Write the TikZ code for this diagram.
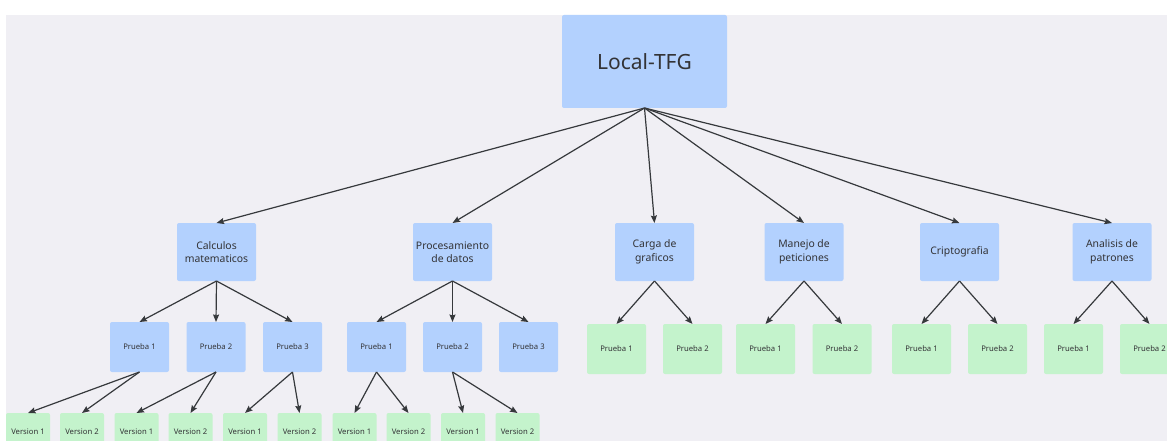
\documentclass[tikz,border=0pt]{standalone}
\usepackage{fontspec}
\setmainfont{Noto Sans}
\usetikzlibrary{arrows.meta}
\definecolor{bgc}{HTML}{F0EFF4}
\definecolor{bluef}{HTML}{B3D1FE}
\definecolor{greenf}{HTML}{C4F3CC}
\definecolor{txt}{HTML}{333336}
\definecolor{lnc}{HTML}{36393C}
\tikzset{
  box/.style={rounded corners=2pt, inner sep=0pt, outer sep=0pt, text=txt, align=center},
  rootbox/.style={box, fill=bluef, minimum width=165pt, minimum height=93pt, font=\fontsize{21}{25}\selectfont},
  catbox/.style={box, fill=bluef, minimum width=79pt, minimum height=58pt, font=\fontsize{10.4}{13.5}\selectfont},
  bprueba/.style={box, fill=bluef, minimum width=59pt, minimum height=50pt, font=\fontsize{7.7}{9}\selectfont},
  gprueba/.style={box, fill=greenf, minimum width=59pt, minimum height=50pt, font=\fontsize{7.7}{9}\selectfont},
  verbox/.style={box, fill=greenf, minimum width=44pt, minimum height=38pt, font=\fontsize{7.7}{9}\selectfont},
  conn/.style={draw=lnc, line width=1.2pt, -{Stealth[length=7.5pt,width=6pt,inset=1pt]}}
}
\begin{document}
\begin{tikzpicture}[x=1pt,y=-1pt]
\useasboundingbox (0,0) rectangle (1167,441);
\clip (0,0) rectangle (1167,441);
\fill[white] (0,0) rectangle (1167,441);
\fill[bgc] (6,15) rectangle (1167,441);

\node[rootbox] (root) at (644.5,61.5) {Local-TFG};

\node[catbox] (calc) at (216.5,252) {Calculos\\matematicos};
\node[catbox] (proc) at (452.5,252) {Procesamiento\\de datos};
\node[catbox] (carga) at (654.5,252) {Carga de\\graficos};
\node[catbox] (manejo) at (804,252) {Manejo de\\peticiones};
\node[catbox] (cripto) at (959.5,252) {Criptografia};
\node[catbox] (anal) at (1112,252) {Analisis de\\patrones};

\node[bprueba] (c1) at (139.5,347) {Prueba 1};
\node[bprueba] (c2) at (216,347) {Prueba 2};
\node[bprueba] (c3) at (292.5,347) {Prueba 3};
\node[bprueba] (p1) at (376.5,347) {Prueba 1};
\node[bprueba] (p2) at (452.5,347) {Prueba 2};
\node[bprueba] (p3) at (528.5,347) {Prueba 3};

\node[gprueba] (g1) at (616.5,349) {Prueba 1};
\node[gprueba] (g2) at (692.5,349) {Prueba 2};
\node[gprueba] (m1) at (765.5,349) {Prueba 1};
\node[gprueba] (m2) at (842,349) {Prueba 2};
\node[gprueba] (k1) at (921.5,349) {Prueba 1};
\node[gprueba] (k2) at (997.5,349) {Prueba 2};
\node[gprueba] (a1) at (1073.5,349) {Prueba 1};
\node[gprueba] (a2) at (1149.5,349) {Prueba 2};

\node[verbox] (v11) at (28,432) {Version 1};
\node[verbox] (v12) at (82,432) {Version 2};
\node[verbox] (v21) at (136.5,432) {Version 1};
\node[verbox] (v22) at (190.5,432) {Version 2};
\node[verbox] (v31) at (245,432) {Version 1};
\node[verbox] (v32) at (299.5,432) {Version 2};
\node[verbox] (v41) at (354.5,432) {Version 1};
\node[verbox] (v42) at (408.5,432) {Version 2};
\node[verbox] (v51) at (463,432) {Version 1};
\node[verbox] (v52) at (517.5,432) {Version 2};

\foreach \t in {calc,proc,carga,manejo,cripto,anal}
  \draw[conn] (root.south) -- (\t.north);

\foreach \t in {c1,c2,c3} \draw[conn] (calc.south) -- (\t.north);
\foreach \t in {p1,p2,p3} \draw[conn] (proc.south) -- (\t.north);
\foreach \t in {g1,g2} \draw[conn] (carga.south) -- (\t.north);
\foreach \t in {m1,m2} \draw[conn] (manejo.south) -- (\t.north);
\foreach \t in {k1,k2} \draw[conn] (cripto.south) -- (\t.north);
\foreach \t in {a1,a2} \draw[conn] (anal.south) -- (\t.north);

\foreach \t in {v11,v12} \draw[conn] (c1.south) -- (\t.north);
\foreach \t in {v21,v22} \draw[conn] (c2.south) -- (\t.north);
\foreach \t in {v31,v32} \draw[conn] (c3.south) -- (\t.north);
\foreach \t in {v41,v42} \draw[conn] (p1.south) -- (\t.north);
\foreach \t in {v51,v52} \draw[conn] (p2.south) -- (\t.north);
\end{tikzpicture}
\end{document}
